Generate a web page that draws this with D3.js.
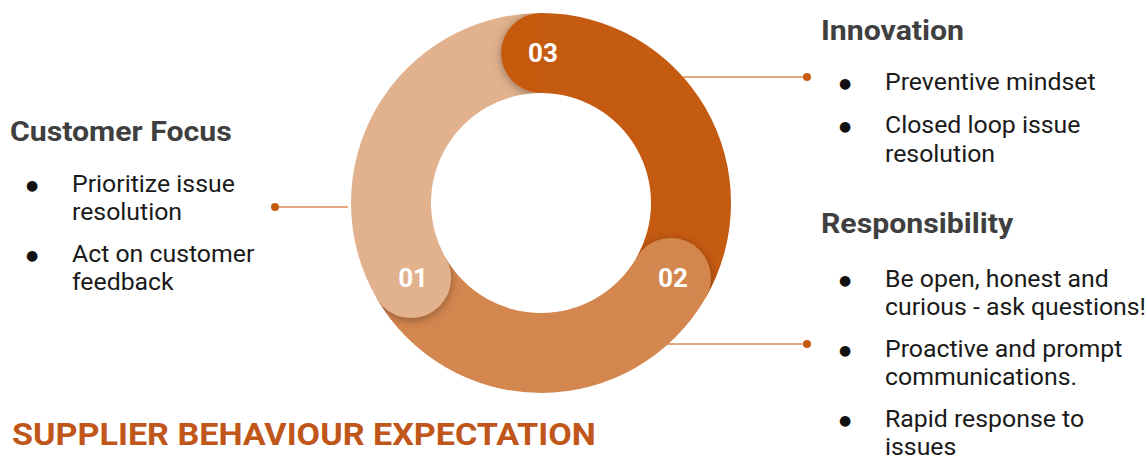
<!DOCTYPE html>
<html>
<head>
<meta charset="utf-8">
<script src="https://cdn.jsdelivr.net/npm/d3@7/dist/d3.min.js"></script>
<style>
  html, body { margin: 0; padding: 0; background: #fff; }
  svg { display: block; }
  text { font-family: Roboto, "Open Sans", sans-serif; }
</style>
</head>
<body>
<svg id="chart" width="1147" height="456"></svg>
<script>
// ---- data ----
const segmentLabels = ["03", "02", "01"];      // clockwise from 12 o'clock
const segmentValues = [1, 1, 1];
const segmentColors = ["#c55a11", "#d4864f", "#e2b18e"];

const groupTitles = ["Customer Focus", "Innovation", "Responsibility"];
const customerLines = [["Prioritize issue", "resolution"], ["Act on customer", "feedback"]];
const innovationLines = [["Preventive mindset"], ["Closed loop issue", "resolution"]];
const responsibilityLines = [["Be open, honest and", "curious - ask questions!"], ["Proactive and prompt", "communications."], ["Rapid response to", "issues"]];
const chartTitle = "SUPPLIER BEHAVIOUR EXPECTATION";

// ---- layout ----
const svg = d3.select("#chart");
const cx = 541, cy = 203, rOuter = 190, rInner = 110;
const rMid = (rOuter + rInner) / 2, capR = (rOuter - rInner) / 2;
const SX = 1.08; // horizontal stretch of the reference lettering

const defs = svg.append("defs");
const f = defs.append("filter").attr("id", "shadow").attr("x", "-50%").attr("y", "-50%").attr("width", "200%").attr("height", "200%");
f.append("feDropShadow").attr("dx", 0).attr("dy", 2).attr("stdDeviation", 5)
  .attr("flood-color", "#000").attr("flood-opacity", 0.35);

const pie = d3.pie().sort(null).value(d => d)(segmentValues);
const arc = d3.arc().innerRadius(rInner).outerRadius(rOuter);
const wedge = d3.arc().innerRadius(rInner).outerRadius(rOuter);

const g = svg.append("g").attr("transform", `translate(${cx},${cy})`);

// bodies
g.selectAll("path.body").data(pie).join("path")
  .attr("class", "body")
  .attr("d", d => arc({startAngle: d.startAngle, endAngle: d.endAngle}))
  .attr("fill", (d, i) => segmentColors[i]);

// clip wedges behind each segment start (within the ring)
pie.forEach((d, i) => {
  defs.append("clipPath").attr("id", "clip" + i)
    .append("path")
    .attr("transform", `translate(${cx},${cy})`)
    .attr("d", wedge({startAngle: d.startAngle - Math.PI / 2, endAngle: d.startAngle}));
});

const capPos = d => [rMid * Math.sin(d.startAngle), -rMid * Math.cos(d.startAngle)];

const capLayer = svg.append("g");
pie.forEach((d, i) => {
  const [x, y] = capPos(d);
  capLayer.append("g").attr("clip-path", `url(#clip${i})`)
    .append("circle")
    .attr("cx", cx + x).attr("cy", cy + y).attr("r", capR)
    .attr("fill", segmentColors[i])
    .attr("filter", "url(#shadow)");
});

// numbers (on top of caps)
svg.append("g").attr("transform", `translate(${cx},${cy})`)
  .selectAll("text.num").data(pie).join("text")
  .attr("class", "num")
  .attr("x", d => capPos(d)[0] + 2)
  .attr("y", d => capPos(d)[1])
  .attr("dy", "0.36em")
  .attr("text-anchor", "middle")
  .attr("fill", "#fff")
  .attr("font-weight", 700)
  .attr("font-size", 26)
  .text((d, i) => segmentLabels[i]);

// connectors
const lineColor = "#d98a55", dotColor = "#c55a11";
const connectors = [
  {x1: 275, x2: cx - 193, y: 207, dot: 275},
  {x1: 683, x2: 807, y: 77, dot: 807},
  {x1: 630, x2: 807, y: 344, dot: 807}
];
connectors.forEach(c => {
  svg.append("line").attr("x1", c.x1).attr("x2", c.x2).attr("y1", c.y).attr("y2", c.y)
    .attr("stroke", lineColor).attr("stroke-width", 1.5);
  svg.append("circle").attr("cx", c.dot).attr("cy", c.y).attr("r", 4).attr("fill", dotColor);
});

function stretchedText(x, y) {
  return svg.append("text").attr("transform", `translate(${x},${y}) scale(${SX},1)`);
}

// text blocks
function block(title, items, tx, ty, bx, textX, firstBaseline, lineGap, itemGap) {
  stretchedText(tx, ty).attr("font-size", 28).attr("font-weight", 700).attr("fill", "#3f3f3f").text(title);
  let y = firstBaseline;
  items.forEach(lines => {
    svg.append("text").attr("x", bx).attr("y", y - 7).attr("font-size", 14).attr("fill", "#111")
      .attr("text-anchor", "middle").attr("dominant-baseline", "central")
      .style("font-family", "'DejaVu Sans', sans-serif").text("●");
    lines.forEach((ln, k) => {
      stretchedText(textX, y + k * lineGap).attr("font-size", 23).attr("fill", "#1a1a1a").text(ln);
    });
    y += (lines.length - 1) * lineGap + itemGap;
  });
}
block(groupTitles[0], customerLines, 10, 141, 32, 72, 192, 28, 42);
block(groupTitles[1], innovationLines, 821, 40, 845, 885, 90, 29, 43);
block(groupTitles[2], responsibilityLines, 821, 233, 845, 885, 287, 28, 42);

stretchedText(12, 445)
  .attr("font-size", 31.6).attr("font-weight", 700).attr("fill", "#c0561a").text(chartTitle);
</script>
</body>
</html>
